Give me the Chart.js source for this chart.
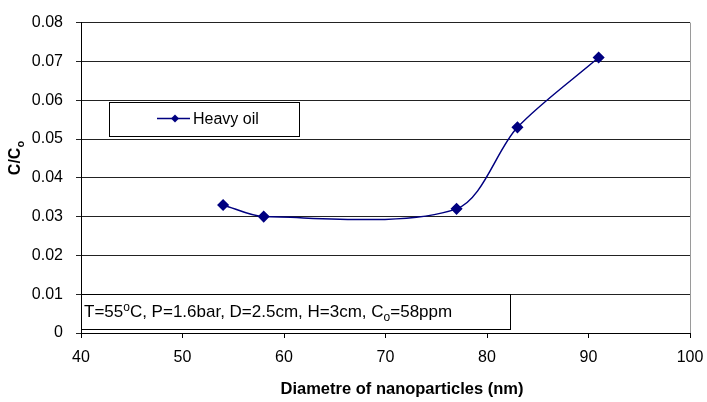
<!DOCTYPE html>
<html>
<head>
<meta charset="utf-8">
<script src="https://cdn.jsdelivr.net/npm/chart.js@4/dist/chart.umd.min.js"></script>
<style>
  html, body { margin: 0; padding: 0; background: #fff; }
</style>
</head>
<body>
<canvas id="chart" width="707" height="402"></canvas>
<script>
// Data
const diameters = [54, 58, 77, 83, 91];
const ratios = [0.033, 0.030, 0.032, 0.053, 0.071];
const seriesName = 'Heavy oil';
const xTitle = 'Diametre of nanoparticles (nm)';
const yTitle = [['C/C', ''], ['o', 'sub']];
// conditions text, split in runs so the degree sign and subscript can be drawn
const conditions = [['T=55', ''], ['o', 'sup'], ['C, P=1.6bar, D=2.5cm, H=3cm, C', ''], ['o', 'sub'], ['=58ppm', '']];

const FONT = "'Liberation Sans', Arial, sans-serif";
const NAVY = '#000080';

Chart.defaults.font.family = FONT;
Chart.defaults.color = '#000';

// draws a list of text runs starting at x, baseline y; returns end x
function drawRuns(ctx, runs, x, y, size, bold, measureOnly) {
    let cx = x;
    runs.forEach(([txt, kind]) => {
        const s = kind ? Math.round(size * 0.7) : size;
        ctx.font = (bold ? 'bold ' : '') + s + 'px ' + FONT;
        let dy = 0;
        if (kind === 'sup') dy = -size * 0.36;
        if (kind === 'sub') dy = size * 0.25;
        if (!measureOnly) ctx.fillText(txt, cx, y + dy);
        cx += ctx.measureText(txt).width;
    });
    return cx;
}

const extras = {
    id: 'extras',
    afterDraw(chart) {
        const ctx = chart.ctx;
        const a = chart.chartArea;
        ctx.save();

        // grey right edge of plot
        ctx.strokeStyle = '#9a9a9a';
        ctx.lineWidth = 1;
        ctx.beginPath();
        ctx.moveTo(a.right + 0.5, a.top);
        ctx.lineTo(a.right + 0.5, a.bottom);
        ctx.stroke();

        // legend box
        const lx = 109, ly = 102, lw = 190, lh = 34;
        ctx.fillStyle = '#fff';
        ctx.fillRect(lx, ly, lw, lh);
        ctx.strokeStyle = '#000';
        ctx.strokeRect(lx + 0.5, ly + 0.5, lw, lh);
        const cy = 118.5;
        ctx.strokeStyle = NAVY;
        ctx.lineWidth = 1.5;
        ctx.beginPath();
        ctx.moveTo(157, cy);
        ctx.lineTo(190, cy);
        ctx.stroke();
        ctx.fillStyle = NAVY;
        ctx.beginPath();
        ctx.moveTo(175, cy - 4);
        ctx.lineTo(179, cy);
        ctx.lineTo(175, cy + 4);
        ctx.lineTo(171, cy);
        ctx.closePath();
        ctx.fill();
        ctx.fillStyle = '#000';
        ctx.textBaseline = 'alphabetic';
        ctx.textAlign = 'left';
        ctx.font = '16px ' + FONT;
        ctx.fillText(seriesName, 193, 124);

        // conditions box
        const bx = a.left, by = 294, bw = 429, bh = 35;
        ctx.fillStyle = '#fff';
        ctx.fillRect(bx, by, bw, bh);
        ctx.strokeStyle = '#000';
        ctx.lineWidth = 1;
        ctx.strokeRect(bx + 0.5, by + 0.5, bw, bh);
        ctx.fillStyle = '#000';
        drawRuns(ctx, conditions, bx + 3, 317, 17, false);

        // x title
        ctx.font = 'bold 16.5px ' + FONT;
        ctx.textAlign = 'center';
        ctx.fillText(xTitle, 402, 394);

        // y title, rotated
        ctx.translate(20, 158);
        ctx.rotate(-Math.PI / 2);
        ctx.textAlign = 'left';
        const w = drawRuns(ctx, yTitle, 0, 0, 16, true, true);
        drawRuns(ctx, yTitle, -w / 2, 0, 16, true);
        ctx.restore();
    }
};

new Chart(document.getElementById('chart'), {
    type: 'scatter',
    data: {
        datasets: [{
            label: seriesName,
            data: diameters.map((d, i) => ({ x: d, y: ratios[i] })),
            showLine: true,
            tension: 0.3,
            borderColor: NAVY,
            backgroundColor: NAVY,
            borderWidth: 1.5,
            pointStyle: 'rectRot',
            pointRadius: 5,
            pointHoverRadius: 5
        }]
    },
    options: {
        responsive: false,
        animation: false,
        devicePixelRatio: 1,
        layout: { padding: { top: 22, right: 17, left: 0, bottom: 0 } },
        plugins: {
            legend: { display: false },
            tooltip: { enabled: false }
        },
        scales: {
            x: {
                type: 'linear',
                min: 40,
                max: 100,
                afterFit: s => { s.height = 69; s.paddingRight = 0; s.paddingLeft = 0; },
                ticks: { stepSize: 10, padding: 10, font: { size: 16 } },
                grid: { drawOnChartArea: false, color: '#000', tickLength: 5 },
                border: { color: '#000', width: 1 }
            },
            y: {
                min: 0,
                max: 0.08,
                afterFit: s => { s.width = 81; },
                ticks: {
                    stepSize: 0.01,
                    padding: 13,
                    font: { size: 16 },
                    callback: v => v === 0 ? '0' : v.toFixed(2)
                },
                grid: { color: '#222', tickLength: 5 },
                border: { color: '#000', width: 1 }
            }
        }
    },
    plugins: [extras]
});
</script>
</body>
</html>
